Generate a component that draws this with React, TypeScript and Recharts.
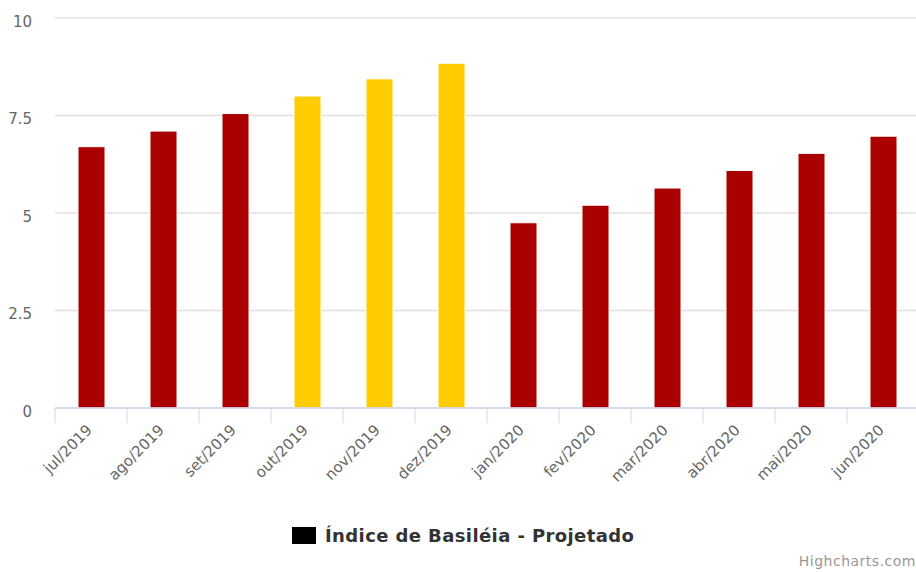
import { BarChart, Bar, XAxis, YAxis, CartesianGrid, Cell } from "recharts";

const months = [
  "jul/2019",
  "ago/2019",
  "set/2019",
  "out/2019",
  "nov/2019",
  "dez/2019",
  "jan/2020",
  "fev/2020",
  "mar/2020",
  "abr/2020",
  "mai/2020",
  "jun/2020",
];

const indice = [6.7, 7.1, 7.55, 8.0, 8.44, 8.84, 4.75, 5.2, 5.64, 6.09, 6.53, 6.97];

// meses destacados em amarelo
const highlighted = ["out/2019", "nov/2019", "dez/2019"];

const yTicks = [0, 2.5, 5, 7.5, 10];

const seriesName = "Índice de Basiléia - Projetado";

const RED = "#aa0000";
const YELLOW = "#ffcc00";
const FONT = "'DejaVu Sans', Verdana, sans-serif";

const chartData = months.map((month, i) => ({ month, value: indice[i] }));

function XTick(props: any) {
  const { x, y, payload } = props;
  const half = payload?.offset ?? 36;
  return (
    <g>
      <line x1={x - half} y1={y} x2={x - half} y2={y + 15} stroke="#ccd6eb" strokeWidth={1} />
      <text
        x={x + 2}
        y={y + 23}
        transform={`rotate(-45, ${x + 2}, ${y + 23})`}
        textAnchor="end"
        fill="#666666"
        fontSize={15}
        fontFamily={FONT}
      >
        {payload.value}
      </text>
    </g>
  );
}

function YTick(props: any) {
  const { x, y, payload } = props;
  return (
    <text x={x} y={y + 8.5} textAnchor="end" fill="#666666" fontSize={15} fontFamily={FONT}>
      {payload.value}
    </text>
  );
}

export default function App() {
  return (
    <div
      style={{
        position: "absolute",
        left: 0,
        top: 0,
        width: 916,
        height: 572,
        overflow: "hidden",
        background: "#fff",
        fontFamily: FONT,
      }}
    >
      <BarChart
        width={930}
        height={572}
        data={chartData}
        margin={{ top: 18, right: 11, left: 0, bottom: 0 }}
      >
        <CartesianGrid vertical={false} stroke="#e0e0e0" strokeWidth={1.5} />
        <XAxis
          dataKey="month"
          height={164}
          interval={0}
          tickSize={0}
          tickMargin={0}
          tickLine={false}
          axisLine={{ stroke: "#ccd6eb", strokeWidth: 1.5 }}
          tick={<XTick />}
        />
        <YAxis
          width={55}
          domain={[0, 10]}
          ticks={yTicks}
          tickSize={0}
          tickMargin={23}
          axisLine={false}
          tickLine={false}
          tick={<YTick />}
        />
        <Bar dataKey="value" name={seriesName} fill="#000" barSize={27} stroke="#fff" strokeWidth={1} isAnimationActive={false}>
          {chartData.map((d) => (
            <Cell key={d.month} fill={highlighted.includes(d.month) ? YELLOW : RED} />
          ))}
        </Bar>
      </BarChart>

      <div
        style={{
          position: "absolute",
          left: 292,
          top: 524,
          display: "flex",
          alignItems: "center",
          height: 22,
        }}
      >
        <div style={{ width: 24, height: 17, background: "#000", marginRight: 9 }} />
        <span
          style={{
            fontSize: 18,
            fontWeight: "bold",
            color: "#333333",
            letterSpacing: 0.4,
            whiteSpace: "nowrap",
          }}
        >
          {seriesName}
        </span>
      </div>

      <div
        style={{
          position: "absolute",
          right: 0,
          top: 553,
          fontSize: 14,
          color: "#999999",
          letterSpacing: 0.5,
          whiteSpace: "nowrap",
        }}
      >
        Highcharts.com
      </div>
    </div>
  );
}
